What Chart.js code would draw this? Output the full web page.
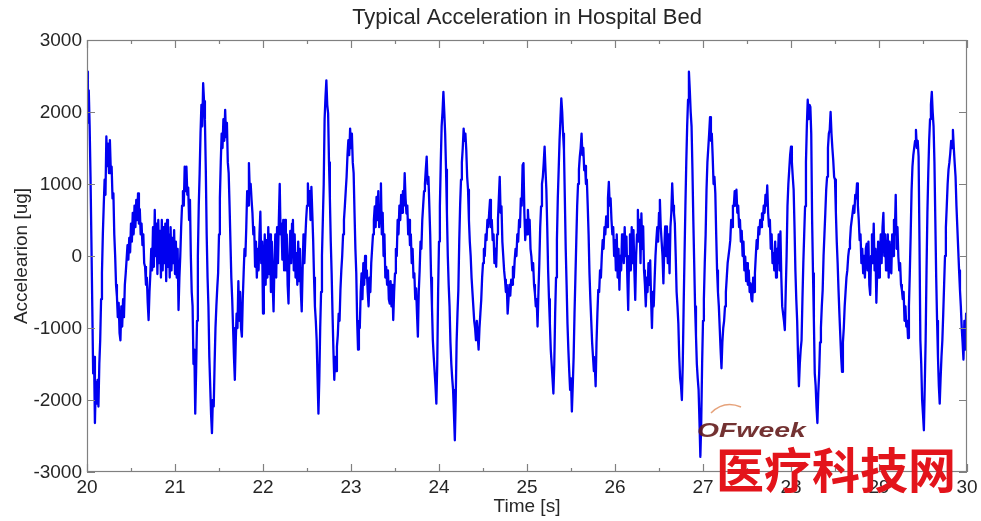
<!DOCTYPE html>
<html>
<head>
<meta charset="utf-8">
<title>Typical Acceleration in Hospital Bed</title>
<script src="https://cdn.jsdelivr.net/npm/chart.js@4.4.1/dist/chart.umd.min.js"></script>
<style>
    html, body { margin: 0; padding: 0; background: #ffffff; }
    #chart { display: block; }
</style>
</head>
<body>
<canvas id="chart" width="981" height="521"></canvas>
<script>
// acceleration samples [ug], one array per second, 0.01 s apart
const accel20 = [
    2560, 1850, 2300, 1800, 1100, 220, -700, -1630, -1400, -2320,
    -1750, -2050, -1720, -2090, -1500, -1170, -600, -240, 300, 690,
    1060, 850, 1660, 1250, 1560, 1150, 1610, 1200, 1240, 800,
    870, 300, 0, -400, -560, -850, -650, -1070, -1170, -700,
    -980, -600, -850, -400, -240, -50, 150, -50, 250, 50,
    450, 200, 600, 300, 700, 400, 780, 500, 870, 450,
    650, 300, 450, 150, 300, -100, -150, -400, -300, -650,
    -890, -500, -250, 100, -200, 400, -150, 640, 0, 450,
    -250, 500, -100, 350, -300, 500, -200, 400, -100, 450,
    -350, 500, -150, 300, -300, 400, -200, 250, -100, 360
];
const accel21 = [
    -250, 200, -300, 100, -750, -300, 0, 400, 700, 900,
    700, 1240, 900, 1240, 850, 950, 500, 780, 0, -500,
    -700, -1500, -1300, -2190, -1600, -900, 0, 700, 1150, 1700,
    2100, 1800, 2400, 2150, 1890, 1200, 300, -300, -700, -1400,
    -1800, -2200, -2460, -2000, -2090, -1500, -1000, -700, -450, -240,
    300, 800, 1300, 1700, 1500, 1900, 1600, 2030, 1650, 1850,
    1300, 1150, 700, 200, -300, -600, -1000, -1400, -1720, -1200,
    -800, -1000, -350, -900, -500, -1000, -1120, -600, -240, 100,
    0, 400, 900, 700, 1290, 900, 1000, 780, 600, 300,
    400, -150, 200, -300, 100, -200, 300, 615, -100, 200
];
const accel22 = [
    -800, -200, 300, -400, 220, -300, 400, -250, 300, -500,
    200, -400, -770, -100, 300, -300, 400, -100, 500, 1000,
    300, 450, -50, 500, -200, 500, -200, 300, -400, -660,
    0, 350, -100, 450, 500, -200, 300, -300, 40, -400,
    200, -350, 100, -500, -770, -200, 300, -100, 220, 500,
    700, 1010, 700, 900, 500, 960, 600, 220, -300, -700,
    -900, -1170, -1700, -2190, -1700, -1000, -500, 0, 500, 1000,
    1900, 2200, 2440, 2100, 1980, 1300, 800, 200, -240, -800,
    -1300, -1720, -1400, -1600, -1260, -1100, -800, -900, -470, -200,
    0, 300, 500, 690, 900, 1100, 1400, 1610, 1400, 1770
];
const accel23 = [
    1500, 1700, 1300, 1150, 600, 100, -240, -900, -1300, -900,
    -1000, -500, -240, -600, -100, -400, 0, -300, -200, -500,
    -700, -300, -500, -100, 100, 300, 500, 690, 400, 820,
    500, 900, 400, 700, 1010, 300, 600, 0, 300, -300,
    -150, -400, -200, -600, -660, -350, -700, -400, -890, -500,
    -240, 100, 0, 500, 300, 700, 500, 850, 600, 900,
    700, 1150, 800, 590, 700, 300, 500, 150, 300, -100,
    100, -300, -240, -600, -450, -800, -1120, -500, -200, 200,
    100, 500, 700, 900, 1000, 1200, 1380, 1000, 1100, 700,
    300, -300, -700, -1170, -1400, -1600, -1800, -2050, -1500, -500
];
const accel24 = [
    200, 690, 1300, 1800, 2000, 2280, 2000, 1700, 1200, 600,
    0, -400, -700, -1200, -1500, -1700, -1860, -2200, -2560, -2000,
    -1200, -800, -470, 200, 700, 1060, 1300, 1500, 1770, 1600,
    1700, 1470, 1100, 920, 500, 200, 0, -300, -500, -700,
    -900, -1000, -1170, -900, -1100, -1300, -1000, -800, -610, -300,
    -100, 100, 0, 300, 220, 500, 400, 600, 780, 400,
    500, 220, 300, -100, 100, -150, 300, 500, 800, 1100,
    600, 690, 200, 0, -200, -330, -500, -400, -800, -600,
    -400, -550, -330, -400, -150, -300, -60, 100, 0, 300,
    200, 500, 400, 800, 700, 1260, 1290, 600, 220, 500
];
const accel25 = [
    300, 640, 400, 500, 100, -10, -200, -100, -400, -520,
    -700, -600, -980, -500, -100, 400, 690, 1000, 1100, 1290,
    1520, 1200, 920, 400, -200, -600, -940, -1300, -1500, -1700,
    -1910, -1500, -800, -300, 220, 800, 1200, 1610, 1900, 2190,
    2000, 1700, 1470, 800, 100, -400, -940, -1300, -1600, -1860,
    -1700, -2160, -1800, -1400, -800, -300, 200, 690, 1000, 1200,
    1380, 1500, 1700, 1400, 1500, 1190, 1250, 1000, 1060, 700,
    300, -240, -600, -900, -1200, -1400, -1600, -1500, -1810, -1200,
    -800, -470, -500, -200, -300, 0, 220, 100, 400, 300,
    550, 400, 800, 1030, 700, 800, 500, 300, 400, 0
];
const accel26 = [
    220, -200, 300, -300, 100, -470, 0, -200, 300, 220,
    -100, 400, 0, 270, -300, -750, 0, 300, -200, 400,
    -100, 360, -200, -610, 0, 300, 640, 200, 500, -100,
    590, 100, 410, -200, -400, -700, -300, -500, -100, -400,
    -60, -600, -1000, -500, -700, -330, 0, 220, 400, 200,
    600, 780, 400, 200, 0, -380, 100, 410, 0, 410,
    -100, 300, -240, 400, 600, 1010, 700, 600, 450, 0,
    -500, -700, -940, -1400, -1700, -1800, -2000, -1500, -700, 0,
    690, 1300, 1800, 2170, 2560, 2300, 2000, 1800, 1200, 500,
    -100, -700, -1100, -1500, -1700, -1860, -2300, -2790, -2300, -1500
];
const accel27 = [
    -900, -600, -100, 300, 920, 1300, 1500, 1700, 1930, 1600,
    1700, 1380, 1000, 1100, 870, 300, -200, -500, -700, -1000,
    -1300, -1560, -1200, -1000, -900, -700, -500, -300, -100, 0,
    100, 220, 500, 400, 700, 690, 900, 700, 920, 600,
    700, 400, 500, 200, 350, 0, 200, -200, -10, -350,
    -100, -400, -200, -500, -380, -600, -630, -300, -500, -240,
    0, 220, 100, 400, 300, 500, 400, 590, 500, 700,
    600, 850, 700, 980, 600, 410, 500, 100, 300, -100,
    40, -200, 200, -300, 100, -100, 300, -200, 340, -300,
    -700, -800, -900, -1030, -500, 0, 690, 1000, 1200, 1400
];
const accel28 = [
    1520, 1300, 1100, 920, 400, -200, -600, -900, -1400, -1810,
    -1500, -1300, -1170, -600, -100, 300, 690, 1300, 1800, 2170,
    1900, 2100, 2070, 1700, 500, -240, -900, -1630, -1800, -2100,
    -2320, -1900, -1630, -1200, -1000, -700, -470, 0, 300, 600,
    920, 1100, 1500, 1700, 1750, 2000, 1700, 1500, 1330, 1100,
    1060, 600, 200, -100, -470, -800, -1100, -1400, -1610, -1200,
    -1000, -700, -500, -300, -200, -10, 100, 200, 400, 500,
    600, 700, 600, 850, 800, 1010, 700, 500, 220, 300,
    -100, 100, -240, 0, -300, 100, 170, -200, 200, -400,
    -540, 0, 300, -100, 450, -200, 100, -650, -200, 200
];
// last second also holds the sample at 30.00 s
const accel29 = [
    -300, -10, 300, -100, 400, 600, 0, 300, -200, -150,
    300, -300, 200, -200, -240, 300, 0, 500, 300, 850,
    100, 400, -10, -200, -100, -400, -470, -600, -500, -900,
    -700, -980, -900, -1140, -700, -240, 300, 900, 1240, 1400,
    1500, 1600, 1750, 1500, 1600, 1380, 200, -1170, -1500, -2000,
    -2200, -2420, -1800, -1170, -200, 600, 1150, 1600, 1900, 2100,
    2280, 2000, 1800, 1300, 500, -300, -900, -1400, -1800, -2050,
    -1700, -1400, -1170, -800, -400, 0, 400, 690, 1000, 1200,
    1300, 1430, 1600, 1500, 1750, 1500, 1290, 1100, 700, 400,
    100, -200, -470, -700, -1000, -1200, -1440, -900, -1300, -800,
    -1200
];

const secondStarts = [20, 21, 22, 23, 24, 25, 26, 27, 28, 29];
const sampleStep = 0.01;

const xTicks = [20, 21, 22, 23, 24, 25, 26, 27, 28, 29, 30];
const xMinorTicks = [20.5, 21.5, 22.5, 23.5, 24.5, 25.5, 26.5, 27.5, 28.5, 29.5];
const yTicks = [-3000, -2000, -1000, 0, 1000, 2000, 3000];

const chartTitle = 'Typical Acceleration in Hospital Bed';
const xAxisLabel = 'Time [s]';
const yAxisLabel = 'Accelearion [ug]';
const markName = 'OFweek';
const markSite = '医疗科技网';

const fontFamily = '"Liberation Sans", Arial, Helvetica, sans-serif';
const textColor = '#262626';
const frameColor = '#808080';

const accelBySecond = [accel20, accel21, accel22, accel23, accel24, accel25, accel26, accel27, accel28, accel29];

const tracePoints = [];
accelBySecond.forEach(function (values, k) {
    values.forEach(function (v, i) {
        tracePoints.push({ x: +(secondStarts[k] + i * sampleStep).toFixed(2), y: v });
    });
});

// MATLAB style box with inward ticks, labels and the watermark
const matlabAxes = {
    id: 'matlabAxes',
    afterDatasetsDraw(chart) {
        const ctx = chart.ctx;
        const a = chart.chartArea;
        const x = chart.scales.x;
        const y = chart.scales.y;

        ctx.save();
        ctx.strokeStyle = frameColor;
        ctx.lineWidth = 1.2;
        ctx.strokeRect(a.left + 0.5, a.top + 0.5, a.right - a.left - 1, a.bottom - a.top - 1);

        ctx.beginPath();
        xTicks.forEach(function (v) {
            const px = Math.round(x.getPixelForValue(v)) + 0.5;
            ctx.moveTo(px, a.bottom); ctx.lineTo(px, a.bottom - 8);
            ctx.moveTo(px, a.top); ctx.lineTo(px, a.top + 8);
        });
        xMinorTicks.forEach(function (v) {
            const px = Math.round(x.getPixelForValue(v)) + 0.5;
            ctx.moveTo(px, a.bottom); ctx.lineTo(px, a.bottom - 4);
            ctx.moveTo(px, a.top); ctx.lineTo(px, a.top + 4);
        });
        yTicks.forEach(function (v) {
            const py = Math.round(y.getPixelForValue(v)) + 0.5;
            ctx.moveTo(a.left, py); ctx.lineTo(a.left + 8, py);
            ctx.moveTo(a.right, py); ctx.lineTo(a.right - 8, py);
        });
        ctx.stroke();

        ctx.fillStyle = textColor;
        ctx.font = '19px ' + fontFamily;
        ctx.textAlign = 'center';
        ctx.textBaseline = 'alphabetic';
        xTicks.forEach(function (v) {
            ctx.fillText(String(v), x.getPixelForValue(v), a.bottom + 21);
        });
        ctx.textAlign = 'right';
        ctx.textBaseline = 'middle';
        yTicks.forEach(function (v) {
            ctx.fillText(String(v), a.left - 5, y.getPixelForValue(v) + 1);
        });

        // axis titles
        ctx.textAlign = 'center';
        ctx.textBaseline = 'alphabetic';
        ctx.fillText(xAxisLabel, (a.left + a.right) / 2, a.bottom + 40);
        ctx.save();
        ctx.translate(27, (a.top + a.bottom) / 2);
        ctx.rotate(-Math.PI / 2);
        ctx.fillText(yAxisLabel, 0, 0);
        ctx.restore();

        ctx.font = '22px ' + fontFamily;
        ctx.fillText(chartTitle, (a.left + a.right) / 2, 24);
        ctx.restore();
    },
    afterDraw(chart) {
        const ctx = chart.ctx;
        ctx.save();
        // little orange swoosh over the logo
        ctx.strokeStyle = '#e6a27a';
        ctx.lineWidth = 1.5;
        ctx.beginPath();
        ctx.moveTo(711, 413);
        ctx.quadraticCurveTo(724, 400, 741, 407);
        ctx.stroke();

        ctx.fillStyle = 'rgba(100, 28, 28, 0.9)';
        ctx.font = 'italic bold 21px ' + fontFamily;
        ctx.textAlign = 'left';
        ctx.textBaseline = 'alphabetic';
        ctx.save();
        ctx.translate(697, 437);
        ctx.scale(1.35, 1);
        ctx.fillText(markName, 0, 0);
        ctx.restore();

        ctx.fillStyle = '#e3141b';
        ctx.font = 'bold 48px "Noto Sans CJK SC", sans-serif';
        ctx.fillText(markSite, 716, 488);
        ctx.restore();
    }
};

const ctx = document.getElementById('chart').getContext('2d');
new Chart(ctx, {
    type: 'line',
    data: {
        datasets: [{
            label: 'Acceleration',
            data: tracePoints,
            borderColor: '#0000f0',
            borderWidth: 2.3,
            borderJoinStyle: 'round',
            pointRadius: 0,
            tension: 0,
            fill: false
        }]
    },
    options: {
        responsive: false,
        animation: false,
        devicePixelRatio: 1,
        parsing: false,
        layout: {
            padding: { left: 87, right: 14, top: 40, bottom: 49 }
        },
        plugins: {
            legend: { display: false },
            tooltip: { enabled: false }
        },
        scales: {
            x: { type: 'linear', min: 20, max: 30, display: false },
            y: { type: 'linear', min: -3000, max: 3000, display: false }
        }
    },
    plugins: [matlabAxes]
});
</script>
</body>
</html>
